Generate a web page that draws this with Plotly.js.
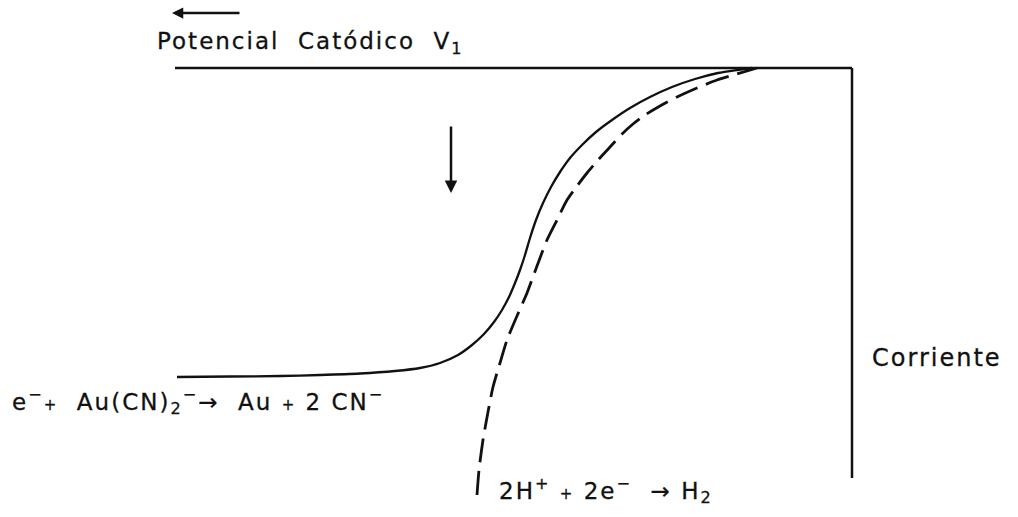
<!DOCTYPE html>
<html>
<head>
<meta charset="utf-8">
<script src="https://cdn.plot.ly/plotly-3.0.1.min.js"></script>
<style>
  html, body { margin: 0; padding: 0; background: #fff; }
  #chart { width: 1018px; height: 517px; }
  .annotation-text { letter-spacing: 2px; stroke: #111; stroke-width: 0.3px; }
</style>
</head>
<body>
<div id="chart"></div>
<script>
// Schematic polarization curves: potential runs horizontally, current runs vertically.
// Drawing units: x = cathodic potential, y = current (grows downward).

// Gold deposition curve (solid): limiting-current plateau on the left
const auPotential = [177, 230, 280, 320, 360, 395, 420, 440, 458, 472, 484, 494, 502, 509, 515, 520, 525, 530, 536, 543, 551, 560, 570, 582, 596, 612, 630, 650, 672, 695, 718, 737, 752];
const auCurrent   = [377, 376.5, 376, 375, 373.5, 371, 368, 363, 355, 345, 334, 322, 310, 297, 283, 270, 255, 238, 220, 203, 187, 172, 158, 145, 132, 120, 108, 97, 87, 79, 73, 70, 68];

// Hydrogen evolution curve (dashed)
const h2Potential = [477, 479, 483, 488, 493, 500, 507, 517, 527, 537, 547, 557, 567, 577, 587, 598, 610, 622, 633, 645, 660, 677, 697, 717, 737, 757];
const h2Current   = [495, 470, 440, 412, 387, 363, 340, 316, 293, 266, 240, 220, 200, 186, 173, 160, 147, 134, 124, 115, 106, 97, 88, 80, 74, 68];

// Frame: potential axis (top) and current axis (right)
const potentialAxisX = [175, 852];
const potentialAxisY = [68, 68];
const currentAxisX   = [852, 852];
const currentAxisY   = [68, 478];

// Labels
const labelPotential = 'Potencial  Catódico  V<sub>1</sub>';
const labelCurrent   = 'Corriente';
const labelGold      = 'e<sup>−</sup><span style="font-size:15px">+</span>  Au(CN)<sub>2</sub><sup>−</sup>→  Au <span style="font-size:15px">+</span> 2 CN<sup>−</sup>';
const labelHydrogen  = '2H<sup>+</sup> <span style="font-size:15px">+</span> 2e<sup>−</sup>  → H<sub>2</sub>';

const ink = '#111';

const traces = [
  { x: potentialAxisX, y: potentialAxisY, mode: 'lines', line: { color: ink, width: 2.5 }, hoverinfo: 'skip' },
  { x: currentAxisX, y: currentAxisY, mode: 'lines', line: { color: ink, width: 2.5 }, hoverinfo: 'skip' },
  { x: auPotential, y: auCurrent, mode: 'lines', line: { color: ink, width: 2.3, shape: 'spline', smoothing: 0.6 }, hoverinfo: 'skip' },
  { x: h2Potential, y: h2Current, mode: 'lines', line: { color: ink, width: 2.8, shape: 'spline', smoothing: 0.6, dash: '24px,9px' }, hoverinfo: 'skip' }
];

const textFont = { family: 'DejaVu Sans, sans-serif', size: 23, color: ink };

const layout = {
  width: 1018,
  height: 517,
  margin: { l: 0, r: 0, t: 0, b: 0 },
  paper_bgcolor: '#fff',
  plot_bgcolor: '#fff',
  showlegend: false,
  xaxis: { range: [0, 1018], visible: false, fixedrange: true },
  yaxis: { range: [517, 0], visible: false, fixedrange: true },
  annotations: [
    // direction of increasing cathodic potential
    { x: 172, y: 13, ax: 241, ay: 13, xref: 'x', yref: 'y', axref: 'x', ayref: 'y',
      text: '', showarrow: true, arrowhead: 2, arrowsize: 0.9, arrowwidth: 2.5, arrowcolor: ink },
    // direction of increasing current
    { x: 451, y: 193, ax: 451, ay: 125, xref: 'x', yref: 'y', axref: 'x', ayref: 'y',
      text: '', showarrow: true, arrowhead: 2, arrowsize: 1, arrowwidth: 2.5, arrowcolor: ink },
    { x: 155, y: 43, xref: 'x', yref: 'y', xanchor: 'left', yanchor: 'middle',
      text: labelPotential, showarrow: false, font: textFont },
    { x: 870, y: 358, xref: 'x', yref: 'y', xanchor: 'left', yanchor: 'middle',
      text: labelCurrent, showarrow: false, font: { family: textFont.family, size: 24, color: ink } },
    { x: 10, y: 401, xref: 'x', yref: 'y', xanchor: 'left', yanchor: 'middle',
      text: labelGold, showarrow: false, font: textFont },
    { x: 497, y: 490, xref: 'x', yref: 'y', xanchor: 'left', yanchor: 'middle',
      text: labelHydrogen, showarrow: false, font: textFont }
  ]
};

Plotly.newPlot('chart', traces, layout, { staticPlot: true, displayModeBar: false });
</script>
</body>
</html>
